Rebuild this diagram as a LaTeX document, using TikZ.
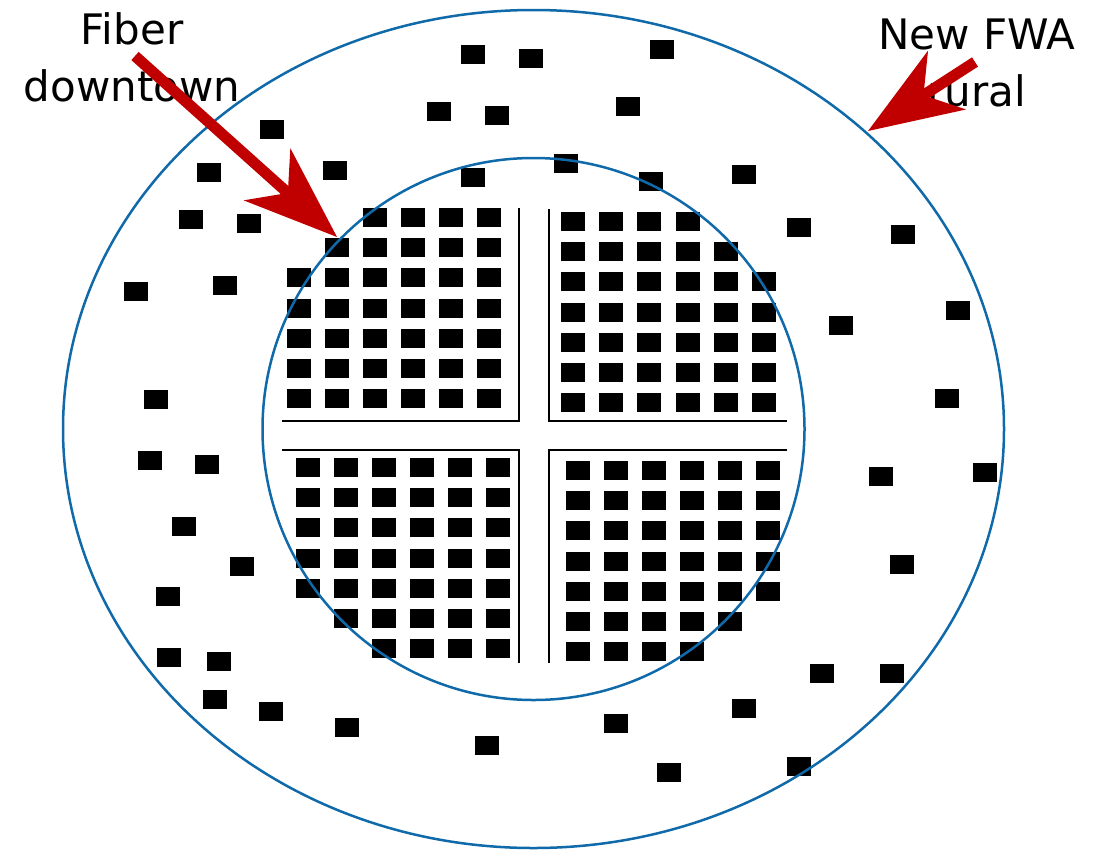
\documentclass[tikz,border=0pt]{standalone}
\usepackage{fontspec}
\setmainfont{DejaVu Sans}
\usepackage{tikz}
\usetikzlibrary{arrows.meta}
\definecolor{ringblue}{RGB}{16,106,170}
\definecolor{arrowred}{RGB}{192,0,0}

\begin{document}
\begin{tikzpicture}[x=1pt, y=-1pt,
  ring/.style={draw=ringblue, line width=2.5pt},
  street/.style={draw=black, line width=2pt},
  home/.style={fill=black},
  pointer/.style={draw=arrowred, line width=11pt,
    -{Stealth[length=94pt, width=70pt, inset=28pt, line width=0pt]}},
  every node/.style={font=\fontsize{42}{57}\selectfont, align=center, inner sep=0pt}]
  \useasboundingbox (0,0) rectangle (1099,849);
  % downtown blocks, one grid per quarter
  \foreach \r/\c in {0/2,1/1,2/0,3/0,4/0,5/0,6/0}
    \foreach \i in {\c,...,5}
      \fill[home] (287+38*\i,208+30.2*\r) rectangle ++(24,19);
  \foreach \r/\n in {0/3,1/4,2/5,3/5,4/5,5/5,6/5}
    \foreach \i in {0,...,\n}
      \fill[home] (561+38.2*\i,212+30.2*\r) rectangle ++(24,19);
  \foreach \r/\c in {0/0,1/0,2/0,3/0,4/0,5/1,6/2}
    \foreach \i in {\c,...,5}
      \fill[home] (296+38*\i,458+30.2*\r) rectangle ++(24,19);
  \foreach \r/\n in {0/5,1/5,2/5,3/5,4/5,5/4,6/3}
    \foreach \i in {0,...,\n}
      \fill[home] (566+38*\i,461+30.2*\r) rectangle ++(24,19);
  % scattered rural homes
  \foreach \x/\y in {461/45,519/49,650/40,427/102,485/106,616/97,260/120,
      197/163,323/161,461/168,554/154,639/172,732/165,
      179/210,237/214,787/218,891/225,124/282,213/276,946/301,829/316,
      144/390,935/389,138/451,195/455,869/467,973/463,172/517,
      230/557,890/555,156/587,157/648,207/652,810/664,880/664,
      203/690,259/702,732/699,604/714,335/718,475/736,657/763,787/757} {
    \fill[home] (\x,\y) rectangle ++(24,19);
  }
  % streets between the blocks
  \draw[street] (282,421) -- (519,421) -- (519,208);
  \draw[street] (549,209) -- (549,421) -- (787,421);
  \draw[street] (282,450) -- (519,450) -- (519,663);
  \draw[street] (787,450) -- (549,450) -- (549,663);
  % outer area and downtown circle
  \draw[ring] (533.5,429) ellipse [x radius=470.5pt, y radius=419pt];
  \draw[ring] (533.5,429) circle [radius=271pt];
  % labels
  \node (fiber) at (132,57.5) {Fiber\\downtown};
  \node (fwa) at (977,63) {New FWA\\rural};
  \coordinate (fiber tail) at (135,56);
  \coordinate (fiber tip) at (337,237);
  \coordinate (fwa tail) at (975,62);
  \coordinate (fwa tip) at (868,131);
  \draw[pointer] (fiber tail) -- (fiber tip);
  \draw[pointer] (fwa tail) -- (fwa tip);
\end{tikzpicture}
\end{document}
